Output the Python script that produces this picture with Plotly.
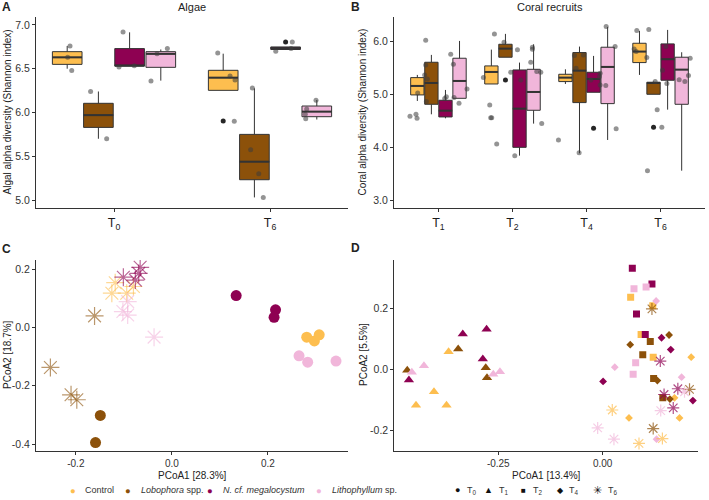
import plotly.graph_objects as go

W, H = 709, 500

# ---------------- data ----------------
treatments = ["Control", "Lobophora spp.", "N. cf. megalocystum", "Lithophyllum sp."]
treat_labels = ["Control", "<i>Lobophora</i> spp.", "<i>N. cf. megalocystum</i>", "<i>Lithophyllum</i> sp."]
colors = ["#FDBE4F", "#8C510A", "#8E0152", "#F1B6DA"]

# Panel A: algal alpha diversity (box stats per treatment, per time T0, T6)
A_times = ["T<sub>0</sub>", "T<sub>6</sub>"]
A_lf = [[6.50, 6.253], [5.70, 5.03], [6.53, 6.718], [6.364, 5.92]]
A_q1 = [[6.55, 6.253], [5.83, 5.232], [6.53, 6.72], [6.516, 5.952]]
A_med = [[6.63, 6.398], [5.97, 5.438], [6.535, 6.735], [6.67, 6.01]]
A_q3 = [[6.695, 6.482], [6.105, 5.75], [6.73, 6.749], [6.695, 6.074]]
A_uf = [[6.76, 6.672], [6.24, 6.276], [6.916, 6.749], [6.72, 6.143]]
A_pt_x = [0.718, 0.703, 0.729, 1.665, 1.744, 1.776, 1.771,
          0.85, 0.953, 1.887, 1.876, 1.928, 1.957,
          1.058, 1.032, 1.13, 2.143, 2.037, 2.135,
          1.342, 1.276, 1.237, 2.295, 2.235, 2.226, 2.229]
A_pt_y = [6.76, 6.63, 6.48, 6.68, 6.417, 6.37, 5.90,
          6.24, 5.70, 6.28, 5.575, 5.30, 5.03,
          6.92, 6.52, 6.535, 6.806, 6.70, 6.73,
          6.73, 6.67, 6.36, 6.14, 6.04, 5.98, 5.93]
A_out_x = [1.7, 2.1]
A_out_y = [5.903, 6.806]

# Panel B: coral alpha diversity (T1, T2, T4, T6)
B_times = ["T<sub>1</sub>", "T<sub>2</sub>", "T<sub>4</sub>", "T<sub>6</sub>"]
B_lf = [[4.872, 5.193, 5.193, 5.364], [4.62, 5.698, 3.883, 4.998],
        [4.544, 3.839, 5.036, 4.708], [4.922, 4.444, 4.135, 3.555]]
B_q1 = [[4.986, 5.193, 5.238, 5.597], [4.809, 5.698, 4.841, 4.998],
        [4.57, 3.996, 5.036, 5.263], [4.922, 4.696, 4.822, 4.809]]
B_med = [[5.156, 5.42, 5.313, 5.805], [5.212, 5.861, 5.445, 5.212],
         [4.689, 4.727, 5.288, 5.66], [5.25, 5.042, 5.515, 5.464]]
B_q3 = [[5.313, 5.534, 5.376, 5.962], [5.603, 5.943, 5.786, 5.225],
        [4.885, 5.458, 5.414, 5.95], [5.679, 5.47, 5.887, 5.698]]
B_uf = [[5.364, 5.842, 5.47, 6.195], [5.742, 6.139, 5.899, 5.238],
        [5.08, 5.597, 5.723, 6.214], [6.006, 5.943, 6.271, 5.792]]
B_pt_x = [0.720, 0.616, 0.697, 0.711, 0.828, 0.828, 0.814, 0.850, 0.837,
          1.085, 1.107, 1.166, 1.202, 1.211, 1.386, 1.278,
          1.607, 1.693, 1.706, 1.720, 1.787, 1.756, 1.886, 2.067,
          1.977, 2.112, 2.031, 2.269, 2.269, 2.247, 2.328, 2.382, 2.395,
          2.621, 2.837, 2.958, 2.859, 2.90, 3.184, 3.175, 3.184, 3.058,
          3.265, 3.386, 3.26, 3.40,
          3.679, 3.643, 3.67, 3.814, 3.823, 3.841, 3.927, 3.954, 4.017,
          4.071, 4.026, 4.085, 4.40, 4.377, 4.328, 4.251]
B_pt_y = [5.023, 4.582, 4.62, 4.544, 6.019, 5.553, 5.364, 5.288, 4.86,
          4.92, 4.95, 5.754, 5.565, 4.935, 5.099, 4.828,
          5.313, 4.796, 4.557, 4.557, 4.06, 6.139, 5.98, 5.84,
          5.414, 5.27, 3.839, 5.887, 5.849, 5.603, 5.427, 5.414, 4.444,
          4.135, 5.729, 5.742, 5.49, 3.895, 5.395, 5.332, 5.175, 5.269,
          6.277, 5.899, 5.162, 4.349,
          6.202, 5.855, 5.805, 5.691, 3.555, 6.22, 5.238, 4.708, 4.374,
          5.899, 5.452, 5.2, 5.679, 5.351, 5.238, 5.275]
B_out_x = [1.905, 3.095, 3.905]
B_out_y = [5.27, 4.355, 4.374]

# Panel C: algae PCoA (T0 circles, T6 asterisks), per treatment
C_T0_x = [[0.281, 0.297, 0.307], [-0.149, -0.159], [0.134, 0.216, 0.213], [0.265, 0.283, 0.342]]
C_T0_y = [[-0.033, -0.046, -0.025], [-0.302, -0.395], [0.110, 0.061, 0.035], [-0.097, -0.119, -0.115]]
C_T6_x = [[-0.118, -0.125, -0.094, -0.080], [-0.161, -0.253, -0.210, -0.198],
          [-0.101, -0.066, -0.069, -0.076], [-0.092, -0.102, -0.092, -0.037]]
C_T6_y = [[0.154, 0.118, 0.118, 0.141], [0.040, -0.137, -0.231, -0.248],
          [0.173, 0.207, 0.186, 0.163], [0.089, 0.055, 0.043, -0.033]]

# Panel D: coral PCoA (T1 triangles, T2 squares, T4 diamonds, T6 asterisks)
D_T1_x = [[-0.369, -0.404, -0.447, -0.374], [-0.346, -0.280, -0.277, -0.468],
          [-0.335, -0.278, -0.287, -0.464], [-0.428, -0.457, -0.262, -0.246]]
D_T1_y = [[0.058, -0.074, -0.118, -0.118], [0.067, 0.005, -0.028, -0.003],
          [0.116, 0.132, 0.034, -0.035], [0.012, -0.010, -0.016, -0.008]]
D_T2_x = [[0.067, 0.120, 0.092, 0.121], [0.114, 0.096, 0.122, 0.144],
          [0.071, 0.118, 0.081, 0.102], [0.075, 0.104, 0.079, 0.073]]
D_T2_y = [[0.237, 0.209, 0.115, 0.040], [0.092, 0.048, -0.030, -0.094],
          [0.333, 0.281, 0.182, 0.115], [0.265, 0.271, 0.022, -0.016]]
D_T4_x = [[0.212, 0.172, 0.063, 0.184], [0.159, 0.066, 0.131, 0.161],
          [0.141, 0.163, 0.001, 0.216], [0.128, 0.029, 0.189, 0.129]]
D_T4_y = [[0.040, -0.094, -0.160, -0.160], [0.113, 0.081, -0.037, -0.098],
          [0.104, 0.065, -0.040, -0.103], [0.225, 0.007, -0.026, -0.230]]
D_T6_x = [[0.023, 0.143, 0.087], [0.118, 0.208, 0.121],
          [0.138, 0.180, 0.147, 0.169], [-0.012, 0.027, 0.139, 0.196]]
D_T6_y = [[-0.134, -0.228, -0.244], [0.199, -0.066, -0.195],
          [0.027, -0.064, -0.083, -0.127], [-0.193, -0.230, -0.136, -0.074]]

legend_times = ["T<sub>0</sub>", "T<sub>1</sub>", "T<sub>2</sub>", "T<sub>4</sub>", "T<sub>6</sub>"]
legend_glyphs = ["●", "▲", "■", "◆", "✳"]

# ---------------- figure ----------------
FONT = "Liberation Sans, Arial, sans-serif"
AX = "#333333"
fig = go.Figure()


def px(x):
    return x / W


def py(y):
    return 1 - y / H


def add_boxes(xa, ya, lf, q1, med, q3, uf, spacing, width):
    for t in range(4):
        xs = [g + 1 + (t - 1.5) * spacing for g in range(len(med[t]))]
        fig.add_trace(go.Box(
            x=xs, lowerfence=lf[t], q1=q1[t], median=med[t], q3=q3[t], upperfence=uf[t],
            width=width, fillcolor=colors[t], line=dict(color=AX, width=1),
            whiskerwidth=0, boxpoints=False, name=treatments[t], showlegend=False,
            xaxis=xa, yaxis=ya, hoverinfo="skip"))
    for t in range(4):
        mx, my = [], []
        for g in range(len(med[t])):
            c = g + 1 + (t - 1.5) * spacing
            mx += [c - width / 2, c + width / 2, None]
            my += [med[t][g], med[t][g], None]
        fig.add_trace(go.Scatter(x=mx, y=my, mode="lines", line=dict(color=AX, width=2),
                                 showlegend=False, xaxis=xa, yaxis=ya, hoverinfo="skip"))


def add_points(xa, ya, x, y, ox, oy):
    fig.add_trace(go.Scatter(x=x, y=y, mode="markers",
                             marker=dict(color="rgba(60,60,60,0.55)", size=5),
                             showlegend=False, xaxis=xa, yaxis=ya))
    fig.add_trace(go.Scatter(x=ox, y=oy, mode="markers",
                             marker=dict(color="rgba(0,0,0,0.85)", size=5),
                             showlegend=False, xaxis=xa, yaxis=ya))


add_boxes("x", "y", A_lf, A_q1, A_med, A_q3, A_uf, 0.2, 0.19)
add_points("x", "y", A_pt_x, A_pt_y, A_out_x, A_out_y)
add_boxes("x2", "y2", B_lf, B_q1, B_med, B_q3, B_uf, 0.19, 0.18)
add_points("x2", "y2", B_pt_x, B_pt_y, B_out_x, B_out_y)


def add_pcoa(xa, ya, xs, ys, symbol, size, opacity):
    for t in range(4):
        m = dict(color=colors[t], size=size, symbol=symbol, opacity=opacity)
        if symbol == "asterisk-open":
            m["line"] = dict(color=colors[t], width=1.2)
        else:
            m["line"] = dict(width=0)
        fig.add_trace(go.Scatter(x=xs[t], y=ys[t], mode="markers", marker=m,
                                 showlegend=False, xaxis=xa, yaxis=ya))


add_pcoa("x3", "y3", C_T0_x, C_T0_y, "circle", 11, 1.0)
add_pcoa("x3", "y3", C_T6_x, C_T6_y, "asterisk-open", 15, 0.6)
add_pcoa("x4", "y4", D_T1_x, D_T1_y, "triangle-up", 9, 1.0)
add_pcoa("x4", "y4", D_T2_x, D_T2_y, "square", 7, 1.0)
add_pcoa("x4", "y4", D_T4_x, D_T4_y, "diamond", 6, 1.0)
add_pcoa("x4", "y4", D_T6_x, D_T6_y, "asterisk-open", 10, 0.7)


def fmt(vals, d):
    return [f"{v:.{d}f}" for v in vals]


def axis(domain, rng, tickvals, ticktext, anchor, size=10.5, color="#333333"):
    return dict(domain=domain, range=rng, tickvals=tickvals, ticktext=ticktext, anchor=anchor,
                showline=True, linecolor=AX, linewidth=1, ticks="outside", ticklen=3,
                tickcolor=AX, tickwidth=1, showgrid=False, zeroline=False,
                tickfont=dict(size=size, color=color, family=FONT), fixedrange=True)


A_dom_x = [px(36), px(348)]
B_dom_x = [px(394), px(705)]
C_dom_x = [px(36), px(348)]
D_dom_x = [px(394.3), px(698.3)]
top_dom_y = [py(208), py(17)]
bot_dom_y = [py(450.7), py(260)]

A_yt = [5.0, 5.5, 6.0, 6.5, 7.0]
B_yt = [3.0, 4.0, 5.0, 6.0]
C_xt = [-0.2, 0.0, 0.2]
C_yt = [-0.4, -0.2, 0.0, 0.2]
D_xt = [-0.25, 0.0]
D_yt = [-0.2, 0.0, 0.2]

fig.update_layout(
    width=W, height=H, margin=dict(l=0, r=0, t=0, b=0),
    paper_bgcolor="white", plot_bgcolor="white", showlegend=False,
    font=dict(family=FONT, color="#222222"),
    xaxis=axis(A_dom_x, [0.5, 2.5], [1, 2], A_times, "y", 12.5, "#1a1a1a"),
    yaxis=axis(top_dom_y, [4.909, 7.091], A_yt, fmt(A_yt, 1), "x"),
    xaxis2=axis(B_dom_x, [0.4, 4.6], [1, 2, 3, 4], B_times, "y2", 12.5, "#1a1a1a"),
    yaxis2=axis(top_dom_y, [2.85, 6.458], B_yt, fmt(B_yt, 1), "x2"),
    xaxis3=axis(C_dom_x, [-0.283, 0.367], C_xt, fmt(C_xt, 1), "y3", 10),
    yaxis3=axis(bot_dom_y, [-0.423, 0.232], C_yt, fmt(C_yt, 1), "x3"),
    xaxis4=axis(D_dom_x, [-0.499, 0.229], D_xt, fmt(D_xt, 2), "y4", 10),
    yaxis4=axis(bot_dom_y, [-0.268, 0.36], D_yt, fmt(D_yt, 1), "x4"),
)

ann = []


def text(x, y, s, size=10, angle=0, xanchor="center", color="#222222"):
    ann.append(dict(x=px(x), y=py(y), xref="paper", yref="paper", text=s, showarrow=False,
                    textangle=angle, xanchor=xanchor, yanchor="middle",
                    font=dict(size=size, family=FONT, color=color)))


# panel letters and titles
text(6, 7, "<b>A</b>", 12)
text(355, 7, "<b>B</b>", 12)
text(6, 249, "<b>C</b>", 12)
text(355, 248, "<b>D</b>", 12)
text(192, 7, "Algae", 11)
text(549.5, 7, "Coral recruits", 11)
# axis titles
text(7, 112.5, "Algal alpha diversity (Shannon index)", 10, -90)
text(362, 112.5, "Coral alpha diversity (Shannon index)", 10, -90)
text(7, 355, "PCoA2 [18.7%]", 10, -90)
text(363, 355, "PCoA2 [5.5%]", 10, -90)
text(192, 475, "PCoA1 [28.3%]", 10)
text(546, 475, "PCoA1 [13.4%]", 10)

# legend (treatments)
leg_y = 490
dot_x = [73, 128, 210, 319]
lab_x = [83, 139, 221, 330]
for t in range(4):
    text(dot_x[t], leg_y, f"<span style='color:{colors[t]}'>●</span>", 9.5)
    text(lab_x[t], leg_y, treat_labels[t], 9, xanchor="left", color="#333333")
# legend (time points)
gly_x = [457, 488, 523, 560, 597]
tl_x = [465, 497, 531, 567, 606]
gly_size = [9, 9, 8, 8, 11]
for i in range(5):
    text(gly_x[i], leg_y, legend_glyphs[i], gly_size[i], color="#111111")
    text(tl_x[i], leg_y, legend_times[i], 9, xanchor="left", color="#333333")

fig.update_layout(annotations=ann)
fig.write_html("out.html")
